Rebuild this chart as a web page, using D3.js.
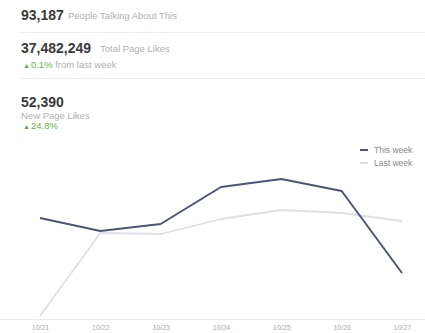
<!DOCTYPE html>
<html>
<head>
<meta charset="utf-8">
<script src="https://cdn.jsdelivr.net/npm/d3@7"></script>
<style>
  html, body { margin: 0; padding: 0; background: #fff; }
  svg { display: block; font-family: "Liberation Sans", Arial, Helvetica, sans-serif; }
</style>
</head>
<body>
<svg id="chart" width="425" height="333"></svg>
<script>
// ---- data ----
const days = ["10/21", "10/22", "10/23", "10/24", "10/25", "10/26", "10/27"];
const thisWeek = [7575, 6600, 7125, 9900, 10500, 9600, 3450];
const lastWeek = [225, 6450, 6375, 7500, 8175, 7950, 7350];
const seriesNames = ["This week", "Last week"];

const stats = [
  { value: "93,187", label: "People Talking About This" },
  { value: "37,482,249", label: "Total Page Likes", change: "0.1%", changeNote: " from last week" },
  { value: "52,390", label: "New Page Likes", change: "24.8%" }
];

const svg = d3.select("#chart");
const W = 425, H = 333;

// ---- header stats ----
const green = "#5fb346";
const big = "#3a3a3a";
const small = "#b0b0b0";

// stat 1
let g1 = svg.append("g");
g1.append("text").attr("x", 21).attr("y", 20).attr("font-size", 14).attr("font-weight", "bold").attr("fill", big).text(stats[0].value);
g1.append("text").attr("x", 68).attr("y", 19).attr("font-size", 9.5).attr("fill", small).text(stats[0].label);
svg.append("line").attr("x1", 18).attr("x2", W).attr("y1", 32.5).attr("y2", 32.5).attr("stroke", "#efefef");

// stat 2
let g2 = svg.append("g");
g2.append("text").attr("x", 21).attr("y", 53).attr("font-size", 14).attr("font-weight", "bold").attr("fill", big).text(stats[1].value);
g2.append("text").attr("x", 100).attr("y", 52).attr("font-size", 9.5).attr("fill", small).text(stats[1].label);
let t2 = g2.append("text").attr("x", 23).attr("y", 68).attr("font-size", 9.5);
t2.append("tspan").attr("fill", green).attr("font-size", 7).text("\u25B2");
t2.append("tspan").attr("fill", green).attr("dx", 1).text(stats[1].change);
t2.append("tspan").attr("fill", small).text(stats[1].changeNote);
svg.append("line").attr("x1", 18).attr("x2", W).attr("y1", 78.5).attr("y2", 78.5).attr("stroke", "#efefef");

// stat 3
let g3 = svg.append("g");
g3.append("text").attr("x", 21).attr("y", 107).attr("font-size", 14).attr("font-weight", "bold").attr("fill", big).text(stats[2].value);
g3.append("text").attr("x", 21).attr("y", 119).attr("font-size", 9.5).attr("fill", small).text(stats[2].label);
let t3 = g3.append("text").attr("x", 23).attr("y", 129).attr("font-size", 9.5);
t3.append("tspan").attr("fill", green).attr("font-size", 7).text("\u25B2");
t3.append("tspan").attr("fill", green).attr("dx", 1).text(stats[2].change);

// ---- chart ----
const x = d3.scalePoint().domain(days).range([40, 402]);
const y = d3.scaleLinear().domain([0, 12000]).range([319, 159]);

// x axis
const xAxis = d3.axisBottom(x).tickSize(0).tickPadding(6);
const ax = svg.append("g").attr("transform", `translate(0,${y(0)})`).call(xAxis);
ax.select(".domain").remove();
ax.selectAll("text").attr("font-size", 7).attr("fill", "#aaaaaa").attr("font-family", "Liberation Sans, Arial, sans-serif");
svg.append("line").attr("x1", 0).attr("x2", W).attr("y1", y(0) + 0.5).attr("y2", y(0) + 0.5).attr("stroke", "#e8e8e8");

const line = d3.line().x((d, i) => x(days[i])).y(d => y(d));

svg.append("path").datum(lastWeek).attr("d", line)
  .attr("fill", "none").attr("stroke", "#dde0e7").attr("stroke-width", 1.8).attr("stroke-linejoin", "round");
svg.append("path").datum(thisWeek).attr("d", line)
  .attr("fill", "none").attr("stroke", "#4b5677").attr("stroke-width", 2).attr("stroke-linejoin", "round");

// legend
const legColors = ["#4b5677", "#dde0e7"];
const leg = svg.append("g");
seriesNames.forEach((name, i) => {
  const ly = 150 + i * 13;
  leg.append("line").attr("x1", 360).attr("x2", 368).attr("y1", ly).attr("y2", ly)
    .attr("stroke", legColors[i]).attr("stroke-width", 2);
  leg.append("text").attr("x", 374).attr("y", ly + 3).attr("font-size", 8.5).attr("fill", "#8a8a8a").text(name);
});
</script>
</body>
</html>
